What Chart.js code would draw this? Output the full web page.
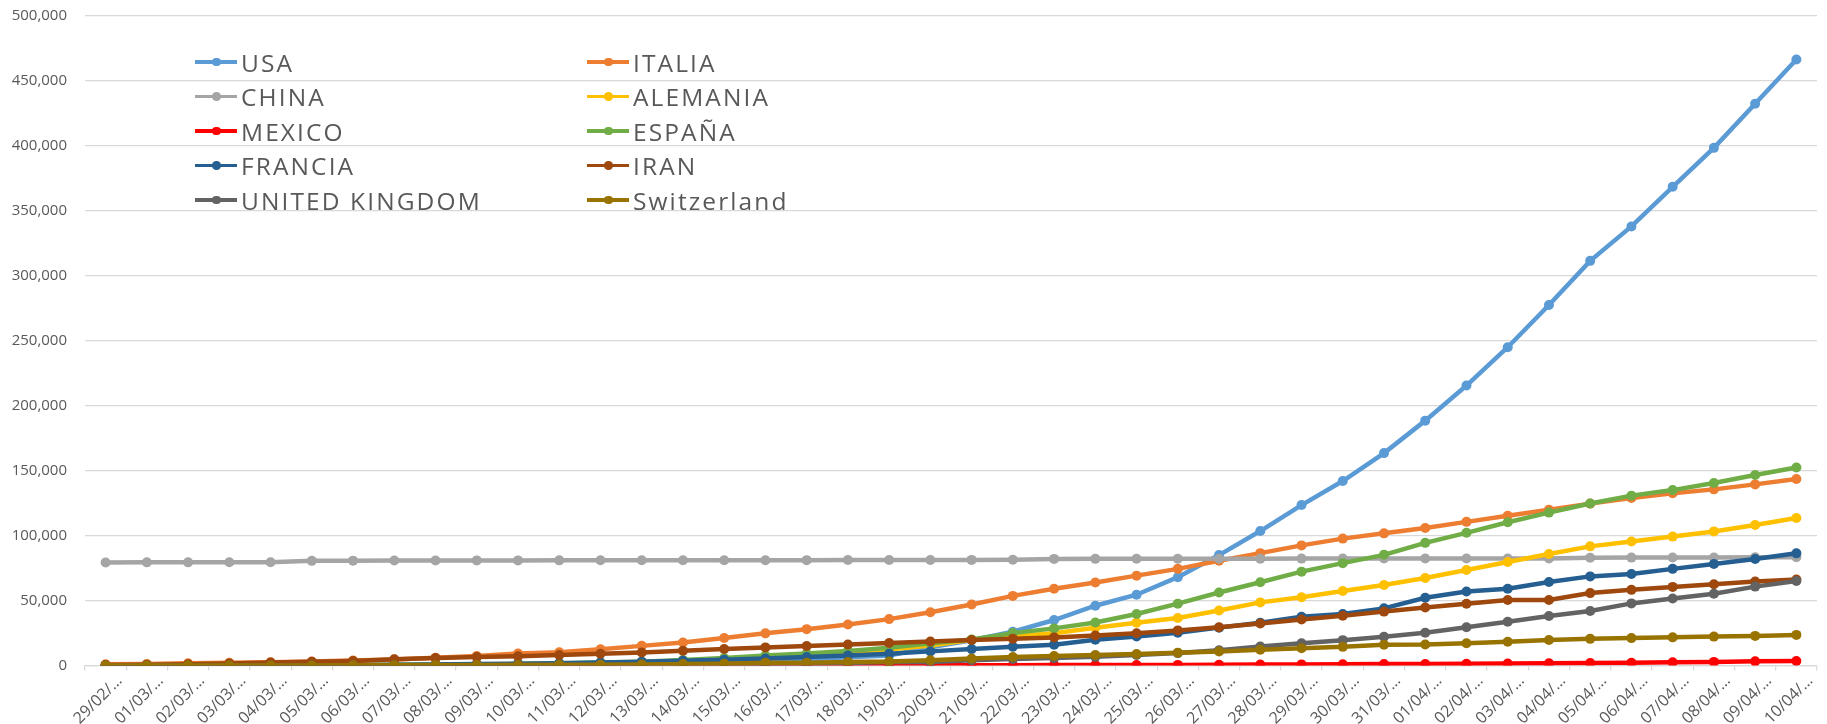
<!DOCTYPE html>
<html>
<head>
<meta charset="utf-8">
<script src="https://cdn.jsdelivr.net/npm/chart.js@4.4.0/dist/chart.umd.min.js"></script>
<style>
  body { margin: 0; background: #fff; }
  #wrap { position: relative; width: 1827px; height: 724px; }
  #leyenda { position: absolute; left: 0; top: 0; font-family: 'Open Sans', sans-serif; font-size: 24.5px; color: #595959; letter-spacing: 2.1px; }
  .item { position: absolute; height: 34px; display: flex; align-items: center; white-space: nowrap; }
  .muestra { position: relative; width: 42px; height: 3.5px; margin-right: 4px; }
  .muestra i { position: absolute; left: 17px; top: -2.5px; width: 8.5px; height: 8.5px; border-radius: 50%; }
</style>
</head>
<body>
<div id="wrap">
  <canvas id="myChart" width="1827" height="724"></canvas>
  <div id="leyenda"></div>
</div>
<script>
// fechas (eje x)
const dias = ['29/02/2020','01/03/2020','02/03/2020','03/03/2020','04/03/2020','05/03/2020','06/03/2020',
  '07/03/2020','08/03/2020','09/03/2020','10/03/2020','11/03/2020','12/03/2020','13/03/2020','14/03/2020',
  '15/03/2020','16/03/2020','17/03/2020','18/03/2020','19/03/2020','20/03/2020','21/03/2020','22/03/2020',
  '23/03/2020','24/03/2020','25/03/2020','26/03/2020','27/03/2020','28/03/2020','29/03/2020','30/03/2020',
  '31/03/2020','01/04/2020','02/04/2020','03/04/2020','04/04/2020','05/04/2020','06/04/2020','07/04/2020',
  '08/04/2020','09/04/2020','10/04/2020'];

// casos acumulados por pais
const usa = [62, 70, 76, 101, 122, 153, 221, 278, 417, 537, 605, 959, 1281, 1663, 2179, 2726, 3499, 4632, 6421, 7783,
  14000, 19500, 26000, 35000, 46000, 54500, 68000, 85000, 103500, 123500, 142000, 163500, 188500, 215500, 245000,
  277500, 311500, 338000, 368500, 398500, 432500, 466500];
const italia = [888, 1128, 1694, 2036, 2502, 3089, 3858, 4636, 5883, 7375, 9172, 10149, 12462, 15113, 17660, 21157,
  24747, 27980, 31506, 35713, 41035, 47021, 53578, 59138, 63927, 69176, 74386, 80589, 86498, 92472, 97689, 101739,
  105792, 110574, 115242, 119827, 124632, 128948, 132547, 135586, 139422, 143626];
const china = [79251, 79394, 79394, 79450, 79450, 80565, 80711, 80813, 80859, 80904, 80924, 80955, 80981, 80991,
  81021, 81048, 81077, 81116, 81174, 81200, 81250, 81300, 81350, 82078, 82100, 82150, 82200, 82230, 82250, 82280,
  82300, 82320, 82341, 82361, 82380, 82400, 83005, 83071, 83157, 83200, 83249, 83305];
const alemania = [57, 79, 129, 157, 196, 262, 400, 639, 795, 1040, 1224, 1565, 1966, 2745, 3675, 4585, 5813, 7272,
  9257, 12327, 15320, 19848, 22364, 24873, 29056, 32986, 36508, 42288, 48582, 52547, 57298, 61913, 67366, 73522,
  79696, 85778, 91714, 95391, 99225, 103228, 108202, 113525];
const mexico = [4, 5, 5, 5, 5, 5, 6, 6, 7, 7, 7, 8, 12, 16, 26, 41, 53, 82, 93, 118, 164, 203, 251, 316, 367, 405,
  475, 585, 717, 848, 993, 1094, 1215, 1378, 1510, 1688, 1890, 2143, 2439, 2785, 3181, 3441];
const espana = [32, 45, 84, 120, 165, 222, 259, 400, 500, 673, 1073, 1695, 2277, 2950, 4209, 5753, 7753, 9191,
  11178, 13716, 17147, 19980, 24926, 28572, 33089, 39673, 47610, 56188, 64059, 72248, 78797, 85195, 94417, 102136,
  110238, 117710, 124736, 130759, 135032, 140510, 146690, 152446];
const francia = [57, 100, 130, 191, 212, 285, 423, 613, 706, 1116, 1402, 1774, 2269, 2860, 3640, 4469, 5380, 6573,
  7652, 9043, 10871, 12612, 14459, 16018, 19856, 22302, 25233, 29155, 32964, 37575, 39642, 43977, 52128, 56989,
  59105, 64338, 68605, 70478, 74390, 78167, 82048, 86334];
const iran = [388, 593, 978, 1501, 2336, 2922, 3513, 4747, 5823, 6566, 7161, 8042, 9000, 10075, 11364, 12729, 13938,
  14991, 16169, 17361, 18407, 19644, 20610, 21638, 23049, 24811, 27017, 29406, 32332, 35408, 38309, 41495, 44605,
  47593, 50468, 50468, 55743, 58226, 60500, 62589, 64586, 66220];
const reinoUnido = [20, 23, 36, 39, 51, 85, 115, 163, 209, 273, 319, 373, 456, 590, 798, 1140, 1372, 1543, 1950,
  2626, 2626, 3983, 5018, 5683, 6650, 8077, 9529, 11658, 14543, 17089, 19522, 22141, 25150, 29474, 33718, 38168,
  41903, 47806, 51608, 55242, 60733, 65077];
const suiza = [18, 24, 30, 37, 56, 90, 114, 214, 268, 337, 374, 491, 652, 858, 1125, 1359, 2200, 2200, 2700, 3028,
  4075, 5294, 6575, 7245, 8060, 8836, 9765, 10714, 12161, 13213, 14352, 15922, 16108, 17070, 18267, 19606, 20505,
  21100, 21652, 22242, 22789, 23574];

const paises = ['USA', 'ITALIA', 'CHINA', 'ALEMANIA', 'MEXICO', 'ESPAÑA', 'FRANCIA', 'IRAN', 'UNITED KINGDOM', 'Switzerland'];
const series = [usa, italia, china, alemania, mexico, espana, francia, iran, reinoUnido, suiza];
const colores = ['#5B9BD5', '#ED7D31', '#A5A5A5', '#FFC000', '#FF0000', '#70AD47', '#255E91', '#9E480E', '#636363', '#997300'];

const datasets = new Array;
for (let i = 0; i < paises.length; i++) {
	datasets.push({
		label: paises[i],
		data: series[i],
		borderColor: colores[i],
		backgroundColor: colores[i],
		pointBackgroundColor: colores[i],
		pointBorderWidth: 0,
		pointRadius: 5,
		borderWidth: 4.5,
		tension: 0,
		fill: false,
		order: paises.length - i   // las ultimas series quedan encima
	});
}

// leyenda en dos columnas, dentro del area del grafico
const leyenda = document.getElementById('leyenda');
for (let i = 0; i < paises.length; i++) {
	const fila = Math.floor(i / 2), col = i % 2;
	const item = document.createElement('div');
	item.className = 'item';
	item.style.left = (col == 0 ? 195 : 587) + 'px';
	item.style.top = (45 + fila * 34.5) + 'px';
	item.innerHTML = '<span class="muestra" style="background:' + colores[i] + '"><i style="background:' + colores[i] + '"></i></span>' + paises[i];
	leyenda.appendChild(item);
}

const gris = '#595959';
const ctx = document.getElementById('myChart');

const myChart = new Chart(ctx, {
    type: 'line',
    data: {
        labels: dias,
        datasets: datasets
    },
    options: {
		responsive: false,
		animation: false,
		devicePixelRatio: 1,
		layout: {
			padding: { top: 16, right: 10, left: 0, bottom: 0 }
		},
        scales: {
			x: {
				offset: true,
				grid: {
					offset: true,
					drawOnChartArea: false,
					tickLength: 5,
					color: '#D9D9D9',
					lineWidth: 1.3
				},
				border: { color: '#D9D9D9', width: 1.3 },
				ticks: {
					autoSkip: false,
					maxRotation: 45,
					minRotation: 45,
					padding: 1,
					labelOffset: 14,
					color: gris,
					font: { family: 'Open Sans', size: 16 },
					callback: function (v, i) { return dias[i].slice(0, 6) + '…'; }
				},
				afterFit: function (s) { s.height = 58.5; }
			},
            y: {
				min: 0,
				max: 500000,
				border: { display: false },
				grid: {
					color: '#D9D9D9',
					lineWidth: 1.3,
					tickLength: 16,
					tickColor: 'rgba(0,0,0,0)'
				},
				ticks: {
					stepSize: 50000,
					padding: 2,
					color: gris,
					font: { family: 'Open Sans', size: 15 },
					callback: function (v) { return v.toLocaleString('en-US'); }
				},
				afterFit: function (s) { s.width = 85; }
            }
        },
		plugins: {
			legend: { display: false },
			tooltip: { enabled: false }
		}
    }
});
</script>
</body>
</html>
